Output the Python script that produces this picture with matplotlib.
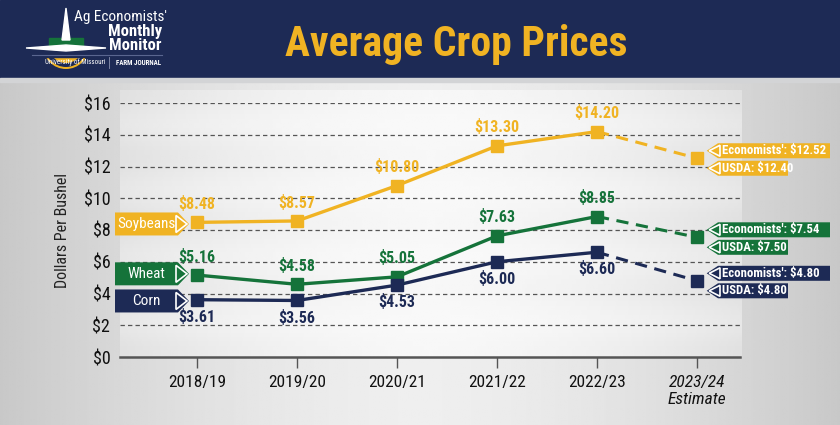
import numpy as np
import matplotlib
matplotlib.use("Agg")
import matplotlib.pyplot as plt
from matplotlib import font_manager as fm
from matplotlib.patches import Polygon, Rectangle, Wedge

# ---------------- data ----------------
years = ["2018/19", "2019/20", "2020/21", "2021/22", "2022/23", "2023/24\nEstimate"]
soybeans = [8.48, 8.57, 10.80, 13.30, 14.20, 12.52]
wheat = [5.16, 4.58, 5.05, 7.63, 8.85, 7.54]
corn = [3.61, 3.56, 4.53, 6.00, 6.60, 4.80]
usda = {"Soybeans": 12.40, "Wheat": 7.50, "Corn": 4.80}
yticks = [0, 2, 4, 6, 8, 10, 12, 14, 16]

# ---------------- fonts ----------------
def pick(cands):
    for c in cands:
        try:
            fm.findfont(fm.FontProperties(family=c), fallback_to_default=False)
            return c
        except Exception:
            pass
    return "DejaVu Sans"

COND = pick(["Liberation Sans Narrow", "Roboto Condensed", "Open Sans Condensed", "Roboto"])
plt.rcParams["font.family"] = [COND, "DejaVu Sans"]

NAVY = "#1d2a55"
GOLD = "#f0b323"
GREEN = "#15733a"
GRID = "#555555"

W, H = 840, 425
fig = plt.figure(figsize=(W / 100, H / 100), dpi=100)

# ---------------- background (pixel coordinates) ----------------
bg = fig.add_axes([0, 0, 1, 1], zorder=0)
bg.set_xlim(0, W)
bg.set_ylim(H, 0)
bg.axis("off")
xx = np.linspace(-1, 1, 400)
grad = 0.935 - 0.15 * np.abs(xx) ** 1.6
img = np.tile(grad, (10, 1))
bg.imshow(img, cmap="gray", vmin=0, vmax=1, extent=[0, W, H, 80], aspect="auto")
# panel
xp = np.linspace(-1, 1, 400)
pg = 0.975 - 0.07 * np.abs(xp) ** 2
yp = np.linspace(0, 1, 60)
pimg = pg[None, :] - 0.02 * (0.5 + 0.5 * np.cos(yp[:, None] * np.pi * 8)) * (0.3 + np.abs(xp[None, :]))
bg.imshow(pimg, cmap="gray", vmin=0, vmax=1, extent=[120, 742, 357, 90], aspect="auto")
# header
bg.add_patch(Rectangle((0, 0), W, 78, color=NAVY, zorder=2))
bg.add_patch(Rectangle((0, 78), W, 4, color="#d3d4d6", zorder=2))
bg.text(456, 44, "Average Crop Prices", color=GOLD, fontsize=30, fontweight="bold",
        ha="center", va="center", zorder=3)

# logo
bg.add_patch(Wedge((66, 46), 23, 0, 180, width=2, facecolor=GOLD, edgecolor="none", zorder=3))
bg.add_patch(Wedge((66, 46), 17, 0, 180, facecolor=GOLD, edgecolor="none", zorder=3))
bg.add_patch(Rectangle((40, 47), 52, 10, color=NAVY, zorder=3.5))
bg.add_patch(Rectangle((49, 38), 34, 9, color=GREEN, zorder=4))
bg.add_patch(Polygon([[66, 8], [70, 40], [62, 40]], closed=True, color="white", zorder=4))
bg.add_patch(Polygon([[26, 48], [66, 45], [106, 48], [66, 51]], closed=True, color="white", zorder=4))
bg.text(121, 17, "Ag Economists'", color="white", fontsize=11, ha="center", va="center", zorder=4)
bg.text(135, 31, "Monthly", color="white", fontsize=12, fontweight="bold", ha="center", va="center", zorder=4)
bg.text(135, 45, "Monitor", color="white", fontsize=12, fontweight="bold", ha="center", va="center", zorder=4)
bg.plot([32, 162], [55, 55], color="#5a6690", lw=0.8, zorder=4)
bg.plot([109, 109], [57, 68], color="#8a93b0", lw=0.6, zorder=4)
bg.text(75, 62.5, "University of Missouri", color="white", fontsize=5, ha="center", va="center", zorder=4)
bg.text(138, 62.5, "FARM JOURNAL", color="white", fontsize=5, fontweight="bold", ha="center", va="center", zorder=4)

# ---------------- main axes ----------------
ax = fig.add_axes([120 / W, 68 / H, 620 / W, 254 / H], zorder=2)
ax.patch.set_alpha(0)
ax.set_xlim(-0.77, 5.43)
ax.set_ylim(0, 16)
for s in ["top", "right", "left"]:
    ax.spines[s].set_visible(False)
ax.spines["bottom"].set_color("#555555")
ax.spines["bottom"].set_linewidth(1.8)
x = np.arange(len(years))
ax.set_xticks(x)
ax.set_xticklabels(years, fontsize=12.5, color="#111111", linespacing=1.15)
for lab in ax.get_xticklabels()[-1:]:
    lab.set_fontstyle("italic")
ax.tick_params(axis="x", length=8, width=1, color="#555555", pad=5)
ax.set_yticks(yticks)
ax.set_yticklabels([f"${v}" for v in yticks], fontsize=13, color="#111111")
ax.tick_params(axis="y", length=0, pad=7)
for v in yticks[1:]:
    ax.axhline(v, color=GRID, lw=0.9, ls=(0, (3.5, 2.5)), zorder=1)
ax.set_ylabel("Dollars Per Bushel", fontsize=11.5, color="#222222", labelpad=10)

series = [("Soybeans", soybeans, GOLD, 1), ("Wheat", wheat, GREEN, 1), ("Corn", corn, NAVY, -1)]
for name, vals, col, side in series:
    ax.plot(x[:5], vals[:5], color=col, lw=2.4, zorder=4, solid_capstyle="butt")
    ax.plot(x[4:], vals[4:], color=col, lw=2.2, ls=(0, (4, 2.5)), zorder=4)
    ax.plot(x, vals, ls="none", marker="s", ms=8.5, color=col, zorder=5)
    for i in range(5):
        ax.annotate(f"${vals[i]:.2f}", (x[i], vals[i]), xytext=(0, 7.5 if side > 0 else -6.5),
                    textcoords="offset points", ha="center",
                    va="bottom" if side > 0 else "top",
                    fontsize=11.5, fontweight="bold", color=col, zorder=6)

# ---------------- labels on left ----------------
U = 16 / 254  # data units per pixel (vertical)
def left_tag(name, yc, col):
    h = 23 * U
    x0, x1, xt = -0.82, -0.19, -0.08
    ax.add_patch(Polygon([[x0, yc - h / 2], [x1, yc - h / 2], [xt, yc], [x1, yc + h / 2], [x0, yc + h / 2]],
                         closed=True, facecolor=col, edgecolor="none", clip_on=False, zorder=7))
    ax.add_patch(Polygon([[x1 - 0.02, yc - h / 2 + 3 * U], [xt - 0.02, yc], [x1 - 0.02, yc + h / 2 - 3 * U]],
                         closed=True, facecolor=col, edgecolor="white", lw=1.2, clip_on=False, zorder=8))
    ax.text((x0 + x1) / 2, yc, name, color="white", fontsize=11, ha="center", va="center",
            zorder=9, clip_on=False)

left_tag("Soybeans", soybeans[0] - 0.1, GOLD)
left_tag("Wheat", wheat[0] + 0.08, GREEN)
left_tag("Corn", corn[0] - 0.08, NAVY)

# ---------------- callouts on right ----------------
def right_tag(text, yc, col, xr):
    h = 15 * U
    xt, x1 = 5.097, 5.21
    ax.add_patch(Polygon([[xt, yc], [x1, yc - h / 2], [xr, yc - h / 2], [xr, yc + h / 2], [x1, yc + h / 2]],
                         closed=True, facecolor=col, edgecolor="none", clip_on=False, zorder=7))
    ax.add_patch(Polygon([[xt + 0.025, yc], [x1 + 0.02, yc - h / 2 + 2 * U], [x1 + 0.02, yc + h / 2 - 2 * U]],
                         closed=True, facecolor=col, edgecolor="white", lw=1.2, clip_on=False, zorder=8))
    ax.text(x1 + 0.035, yc, text, color="white", fontsize=9.2, fontweight="bold", ha="left", va="center",
            zorder=9, clip_on=False)

for name, vals, col, side in series:
    econ = vals[-1]
    yc = econ + 7.5 * U
    right_tag(f"Economists': ${econ:.2f}", yc, col, 6.33)
    right_tag(f"USDA: ${usda[name]:.2f}", yc - 17.5 * U, col, 5.91)

fig.savefig("out.png", dpi=100)
